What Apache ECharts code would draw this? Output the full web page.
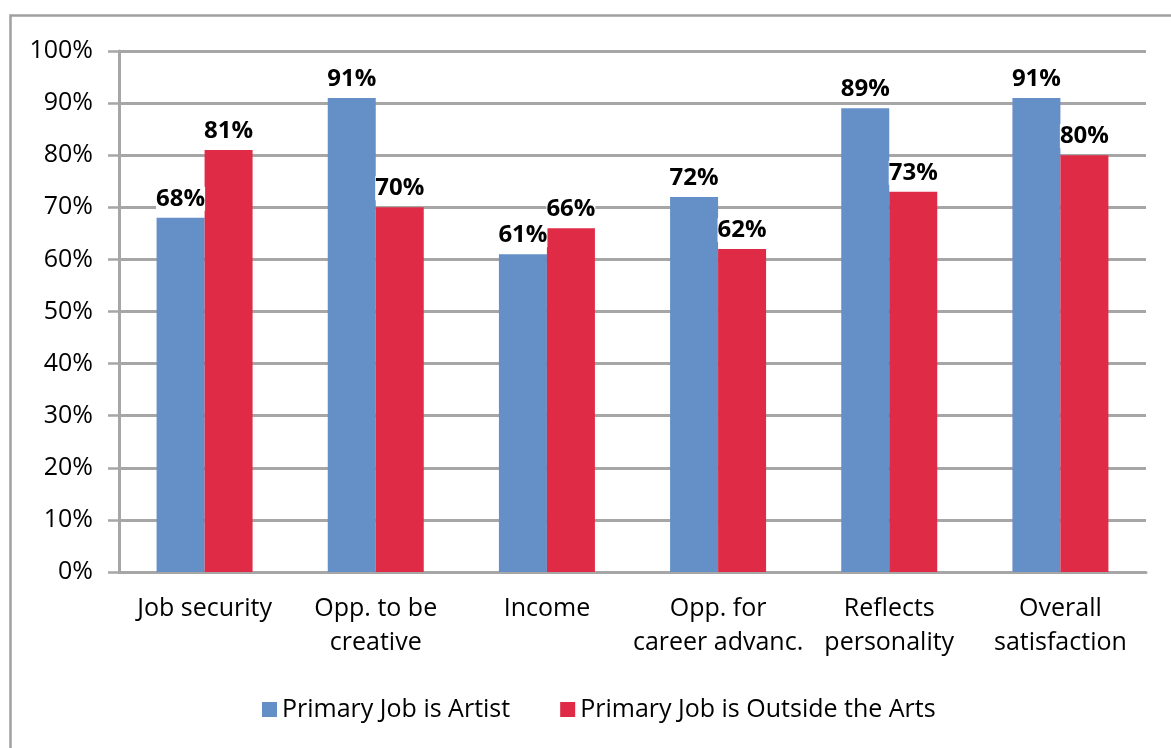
<!DOCTYPE html>
<html lang="en">
<head>
    <meta charset="UTF-8">
    <title>Job satisfaction</title>
    <script src="https://cdn.jsdelivr.net/npm/echarts@6/dist/echarts.min.js"></script>
    <style>
        html, body { margin: 0; padding: 0; background: #fff; }
        #main { width: 1171px; height: 748px; }
    </style>
</head>
<body>
<div id="main"></div>
<script type="text/javascript">
// values
var categories = ['Job security', 'Opp. to be\ncreative', 'Income', 'Opp. for\ncareer advanc.', 'Reflects\npersonality', 'Overall\nsatisfaction'];
var artist = [68, 91, 61, 72, 89, 91];
var outside = [81, 70, 66, 62, 73, 80];
var seriesNames = ['Primary Job is Artist', 'Primary Job is Outside the Arts'];

var font = '"Open Sans", sans-serif';
var gridGray = '#A6A6A6';

var labelStyle = {
    show: true,
    position: 'top',
    distance: 7,
    formatter: '{c}%',
    fontFamily: font,
    fontSize: 24,
    fontWeight: 'bold',
    color: '#000',
    backgroundColor: '#fff',
    padding: 0
};

var chart = echarts.init(document.getElementById('main'));
chart.setOption({
    animation: false,
    backgroundColor: '#fff',
    graphic: [{
        type: 'rect',
        left: 8, top: 13,
        shape: { width: 1300, height: 900 },
        style: { fill: 'none', stroke: '#A0A0A0', lineWidth: 2.5 },
        z: -10
    }],
    grid: { left: 119, right: 25, top: 51, bottom: 176 },
    legend: {
        left: 257,
        top: 692,
        itemWidth: 15,
        itemHeight: 15,
        itemGap: 50,
        icon: 'rect',
        textStyle: { fontFamily: font, fontSize: 25, color: '#000' },
        data: seriesNames
    },
    xAxis: {
        type: 'category',
        data: categories,
        axisLine: { lineStyle: { color: gridGray, width: 3 } },
        axisTick: { length: 9, lineStyle: { color: gridGray, width: 2.5 } },
        axisLabel: {
            interval: 0,
            margin: 20,
            fontFamily: font,
            fontSize: 25,
            lineHeight: 34,
            color: '#000'
        }
    },
    yAxis: {
        type: 'value',
        min: 0,
        max: 100,
        interval: 10,
        axisLine: { show: true, lineStyle: { color: gridGray, width: 3 } },
        axisTick: { show: true, length: 11, lineStyle: { color: gridGray, width: 2.5 } },
        splitLine: { lineStyle: { color: gridGray, width: 3 } },
        axisLabel: {
            margin: 26,
            formatter: '{value}%',
            fontFamily: font,
            fontSize: 25,
            color: '#000'
        }
    },
    series: [{
        name: seriesNames[0],
        type: 'bar',
        data: artist,
        barWidth: 48,
        barGap: '0%',
        itemStyle: { color: '#658FC7' },
        label: labelStyle
    }, {
        name: seriesNames[1],
        type: 'bar',
        data: outside,
        barWidth: 48,
        itemStyle: { color: '#DF2B45' },
        label: labelStyle
    }]
});
</script>
</body>
</html>
